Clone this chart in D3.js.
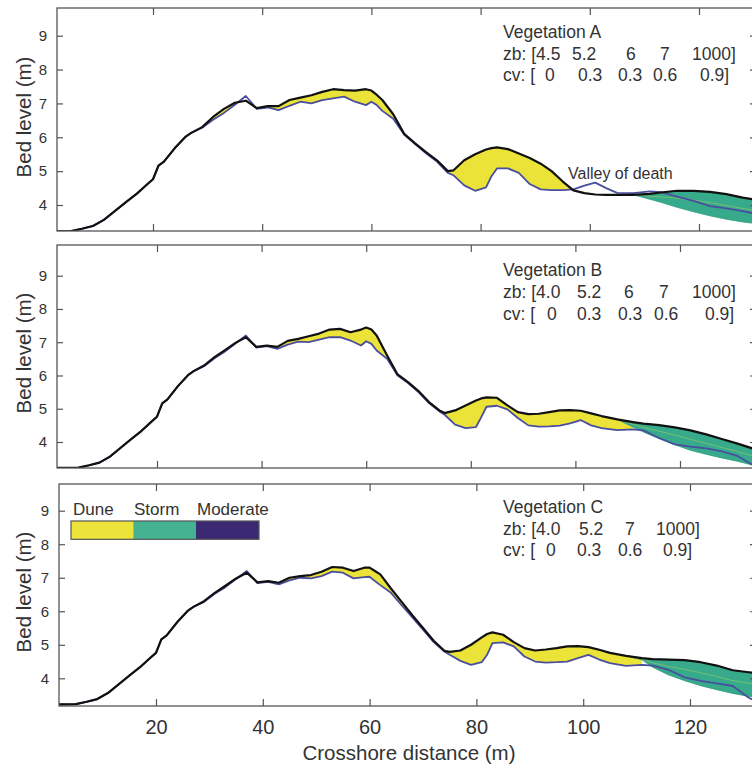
<!DOCTYPE html>
<html><head><meta charset="utf-8">
<script src="https://cdn.jsdelivr.net/npm/d3@7"></script>
<style>
body{margin:0;background:#fff}
svg{display:block}
text{font-family:"Liberation Sans",Arial,Helvetica,sans-serif;fill:#333}
</style>
</head><body>
<svg id="chart" width="752" height="767"></svg>
<script>
// ---------------- DATA ----------------
const crossX = [0,3,5,7,9,11,13,15,17,19,20,21,22,24,26,27,29,31,33,35,37,39,41,43,45,47,49,51,53,55,57,59,60,61,62,64,66,68,70,72,74,75,77,79,81,82,83,85,87,89,91,93,95,97,99,101,103,105,108,111,113,116,119,122,125,128,131,134];

// Vegetation A
const finalA = [3.22,3.22,3.23,3.3,3.38,3.56,3.82,4.08,4.33,4.62,4.76,5.16,5.28,5.68,6.02,6.13,6.3,6.6,6.84,7.02,7.08,6.86,6.92,6.92,7.1,7.17,7.24,7.34,7.42,7.39,7.38,7.42,7.38,7.25,7.1,6.68,6.1,5.82,5.56,5.32,5.0,5.02,5.32,5.5,5.64,5.68,5.7,5.65,5.52,5.39,5.22,5.0,4.7,4.43,4.35,4.31,4.3,4.3,4.3,4.33,4.37,4.42,4.42,4.39,4.32,4.22,4.14,4.08];
const initA  = [3.22,3.22,3.23,3.3,3.38,3.56,3.82,4.08,4.33,4.62,4.76,5.16,5.28,5.68,6.02,6.13,6.28,6.52,6.72,6.96,7.22,6.84,6.88,6.8,6.93,7.05,7.0,7.1,7.15,7.2,7.05,6.95,7.05,6.95,6.78,6.55,6.08,5.8,5.53,5.28,4.95,4.88,4.58,4.42,4.52,4.85,5.08,5.08,4.95,4.62,4.46,4.44,4.44,4.46,4.57,4.66,4.5,4.36,4.35,4.4,4.38,4.25,4.12,3.97,3.9,3.82,3.72,3.6];
const stormLowA = [null,null,null,null,null,null,null,null,null,null,null,null,null,null,null,null,null,null,null,null,null,null,null,null,null,null,null,null,null,null,null,null,null,null,null,null,null,null,null,null,null,null,null,null,null,null,null,null,null,null,null,null,null,null,null,null,null,null,4.3,4.17,4.08,3.93,3.8,3.68,3.58,3.5,3.44,3.4];

// Vegetation B
const finalB = [3.22,3.22,3.23,3.3,3.38,3.56,3.82,4.08,4.33,4.62,4.76,5.16,5.28,5.68,6.02,6.13,6.3,6.55,6.76,6.98,7.15,6.86,6.9,6.86,7.04,7.1,7.18,7.26,7.38,7.4,7.3,7.38,7.44,7.38,7.2,6.6,6.03,5.8,5.53,5.2,4.95,4.87,4.95,5.1,5.25,5.31,5.34,5.33,5.1,4.9,4.84,4.85,4.9,4.95,4.96,4.94,4.86,4.78,4.68,4.6,4.55,4.51,4.44,4.35,4.23,4.09,3.95,3.8];
const initB  = [3.22,3.22,3.23,3.3,3.38,3.56,3.82,4.08,4.33,4.62,4.76,5.16,5.28,5.68,6.02,6.13,6.28,6.52,6.72,6.96,7.2,6.84,6.88,6.8,6.93,7.02,7.0,7.08,7.15,7.15,7.05,6.9,7.03,6.95,6.75,6.5,6.0,5.77,5.5,5.17,4.92,4.82,4.52,4.42,4.45,4.75,5.06,5.09,4.98,4.72,4.5,4.46,4.47,4.49,4.56,4.66,4.5,4.42,4.36,4.38,4.35,4.12,3.93,3.86,3.81,3.72,3.58,3.3];
const stormLowB = [null,null,null,null,null,null,null,null,null,null,null,null,null,null,null,null,null,null,null,null,null,null,null,null,null,null,null,null,null,null,null,null,null,null,null,null,null,null,null,null,null,null,null,null,null,null,null,null,null,null,null,null,null,null,null,null,null,null,4.68,4.45,4.3,4.1,3.92,3.75,3.63,3.52,3.42,3.3];

// Vegetation C
const finalC = [3.22,3.22,3.23,3.3,3.38,3.56,3.82,4.08,4.33,4.62,4.76,5.16,5.28,5.68,6.02,6.13,6.3,6.55,6.76,6.98,7.15,6.86,6.9,6.85,7.0,7.05,7.08,7.18,7.32,7.3,7.2,7.3,7.3,7.2,7.1,6.68,6.28,5.88,5.5,5.12,4.82,4.79,4.83,5.0,5.22,5.32,5.37,5.3,5.08,4.9,4.83,4.86,4.9,4.95,4.96,4.93,4.85,4.76,4.67,4.6,4.57,4.56,4.54,4.48,4.38,4.24,4.18,4.12];
const initC  = [3.22,3.22,3.23,3.3,3.38,3.56,3.82,4.08,4.33,4.62,4.76,5.16,5.28,5.68,6.02,6.13,6.28,6.52,6.72,6.96,7.2,6.84,6.88,6.8,6.92,7.0,6.98,7.05,7.18,7.15,6.98,7.02,7.03,6.9,6.78,6.55,6.18,5.82,5.45,5.08,4.8,4.7,4.52,4.4,4.48,4.7,5.05,5.07,4.95,4.65,4.5,4.47,4.48,4.5,4.6,4.7,4.56,4.45,4.37,4.4,4.38,4.25,4.03,3.92,3.85,3.77,3.42,3.2];
const stormLowC = [null,null,null,null,null,null,null,null,null,null,null,null,null,null,null,null,null,null,null,null,null,null,null,null,null,null,null,null,null,null,null,null,null,null,null,null,null,null,null,null,null,null,null,null,null,null,null,null,null,null,null,null,null,null,null,null,null,null,4.67,4.55,4.33,4.1,3.93,3.78,3.66,3.55,3.46,3.4];

const yTicks = [4,5,6,7,8,9];
const xTicks = [20,40,60,80,100,120];
const vegTitles = ["Vegetation A","Vegetation B","Vegetation C"];
const zbRows = [["zb: [4.5","5.2","6","7","1000]"],["zb: [4.0","5.2","6","7","1000]"],["zb: [4.0","5.2","7","1000]"]];
const cvRows = [["cv: [","0","0.3","0.3","0.6","0.9]"],["cv: [","0","0.3","0.3","0.6","0.9]"],["cv: [","0","0.3","0.6","0.9]"]];
const legendLabels = ["Dune","Storm","Moderate"];
const annotation = "Valley of death";
const xLabel = "Crosshore distance (m)";
const yLabel = "Bed level (m)";

// ---------------- LAYOUT / STYLE ----------------
const colors = {dune:"#ebe337", storm:"#36aa8b", final:"#111", init:"#4a4e9e", axis:"#555"};
const legendColors = ["#ece43a","#45b391","#3b2a73"];
const panels = [
  {final:finalA, init:initA, low:stormLowA, top:8, bottom:231, left:57, x20:153, x120:699, y4:205, y9:35.7,
   textY:[38,60,81], zbX:[503,572,626,660,692], cvX:[503,545,578,618,653,700], yLabY:117},
  {final:finalB, init:initB, low:stormLowB, top:245, bottom:468, left:57, x20:157, x120:680, y4:442, y9:275.7,
   textY:[276,298,320], zbX:[503,577,624,659,692], cvX:[503,547,577,618,654,705], yLabY:353},
  {final:finalC, init:initC, low:stormLowC, top:484, bottom:706, left:59, x20:156, x120:690, y4:678.3, y9:510.7,
   textY:[513,535,556], zbX:[503,579,625,656], cvX:[503,546,577,618,663], yLabY:592}
];
const right = 757;
const annFont = 17.5;

const svg = d3.select("#chart");
const defs = svg.append("defs");

panels.forEach((p, k) => {
  const x = d3.scaleLinear().domain([20,120]).range([p.x20, p.x120]);
  const y = d3.scaleLinear().domain([4,9]).range([p.y4, p.y9]);
  const g = svg.append("g");
  const clipId = "clip" + k;
  defs.append("clipPath").attr("id", clipId).append("rect")
    .attr("x", p.left).attr("y", p.top).attr("width", right - p.left).attr("height", p.bottom - p.top);

  const rows = crossX.map((cx, i) => ({x: cx, fin: p.final[i], ini: p.init[i], low: p.low[i], i}));
  const firstStorm = rows.findIndex(r => r.low != null);

  const plot = g.append("g").attr("clip-path", `url(#${clipId})`);

  // dune (yellow) accretion area
  const duneArea = d3.area()
    .defined(r => r.i <= firstStorm + 1)
    .x(r => x(r.x)).y0(r => y(r.ini)).y1(r => y(Math.max(r.fin, r.ini)));
  plot.append("path").datum(rows).attr("d", duneArea).attr("fill", colors.dune);

  // storm (teal) area
  const stormArea = d3.area()
    .defined(r => r.low != null)
    .x(r => x(r.x)).y0(r => y(r.low)).y1(r => y(r.fin));
  plot.append("path").datum(rows).attr("d", stormArea).attr("fill", colors.storm)
    .attr("stroke", "#2c9a80").attr("stroke-width", 0.8);
  const innerLine = d3.line().defined(r => r.low != null)
    .x(r => x(r.x)).y(r => y(r.low + (r.fin - r.low) * 0.55));
  plot.append("path").datum(rows).attr("d", innerLine).attr("fill", "none")
    .attr("stroke", "#b9d65a").attr("stroke-width", 0.8).attr("opacity", 0.6);

  const line = key => d3.line().x(r => x(r.x)).y(r => y(r[key]));
  plot.append("path").datum(rows).attr("d", line("ini")).attr("fill", "none")
    .attr("stroke", colors.init).attr("stroke-width", 1.8).attr("stroke-linejoin", "round");
  plot.append("path").datum(rows).attr("d", line("fin")).attr("fill", "none")
    .attr("stroke", colors.final).attr("stroke-width", 2.2).attr("stroke-linejoin", "round");

  // frame
  g.append("rect").attr("x", p.left).attr("y", p.top).attr("width", right - p.left).attr("height", p.bottom - p.top)
    .attr("fill", "none").attr("stroke", colors.axis).attr("stroke-width", 1.3);

  // axes (inward ticks)
  const axL = g.append("g").attr("transform", `translate(${p.left},0)`)
    .call(d3.axisLeft(y).tickValues(yTicks).tickSizeInner(-6).tickSizeOuter(0).tickPadding(10).tickFormat(d3.format("d")));
  axL.select(".domain").remove();
  axL.selectAll("line").attr("stroke", colors.axis).attr("stroke-width", 1.2);
  axL.selectAll("text").attr("font-size", 15).attr("fill", "#444").style("font-family", "Liberation Sans, Arial, sans-serif");

  const axR = g.append("g").attr("transform", `translate(${right},0)`)
    .call(d3.axisRight(y).tickValues(yTicks).tickSizeInner(-7).tickSizeOuter(0).tickFormat(""));
  axR.select(".domain").remove();
  axR.selectAll("line").attr("stroke", colors.axis).attr("stroke-width", 1.2);

  const axT = g.append("g").attr("transform", `translate(0,${p.top})`)
    .call(d3.axisTop(x).tickValues(xTicks).tickSizeInner(-7).tickSizeOuter(0).tickFormat(""));
  axT.select(".domain").remove();
  axT.selectAll("line").attr("stroke", colors.axis).attr("stroke-width", 1.2);

  const axB = g.append("g").attr("transform", `translate(0,${p.bottom})`)
    .call(d3.axisBottom(x).tickValues(xTicks).tickSizeInner(-7).tickSizeOuter(0).tickPadding(14)
      .tickFormat(k === 2 ? d3.format("d") : ""));
  axB.select(".domain").remove();
  axB.selectAll("line").attr("stroke", colors.axis).attr("stroke-width", 1.2);
  axB.selectAll("text").attr("font-size", 20).attr("fill", "#444").style("font-family", "Liberation Sans, Arial, sans-serif");

  g.append("text").attr("transform", `translate(31,${p.yLabY}) rotate(-90)`)
    .attr("text-anchor", "middle").attr("font-size", 20.5).attr("fill", "#444").text(yLabel);

  g.append("text").attr("x", p.zbX[0]).attr("y", p.textY[0]).attr("font-size", annFont).text(vegTitles[k]);
  zbRows[k].forEach((t, j) => g.append("text").attr("x", p.zbX[j]).attr("y", p.textY[1]).attr("font-size", annFont).text(t));
  cvRows[k].forEach((t, j) => g.append("text").attr("x", p.cvX[j]).attr("y", p.textY[2]).attr("font-size", annFont).text(t));

  if (k === 0) {
    g.append("text").attr("x", 568).attr("y", 179).attr("font-size", 16).text(annotation);
  }
  if (k === 2) {
    const lg = g.append("g");
    const lx = [73, 134, 197];
    const bx = [71, 133.3, 196, 259];
    legendLabels.forEach((t, j) => {
      lg.append("text").attr("x", lx[j]).attr("y", 515).attr("font-size", 17).text(t);
      lg.append("rect").attr("x", bx[j]).attr("y", 521).attr("width", bx[j+1] - bx[j]).attr("height", 18.3)
        .attr("fill", legendColors[j]);
    });
    lg.append("rect").attr("x", 71).attr("y", 521).attr("width", 188).attr("height", 18.3)
      .attr("fill", "none").attr("stroke", "#555").attr("stroke-width", 1.2);
  }
});

svg.append("text").attr("x", 409).attr("y", 760).attr("text-anchor", "middle")
  .attr("font-size", 20.5).attr("fill", "#444").text(xLabel);
</script>
</body></html>
